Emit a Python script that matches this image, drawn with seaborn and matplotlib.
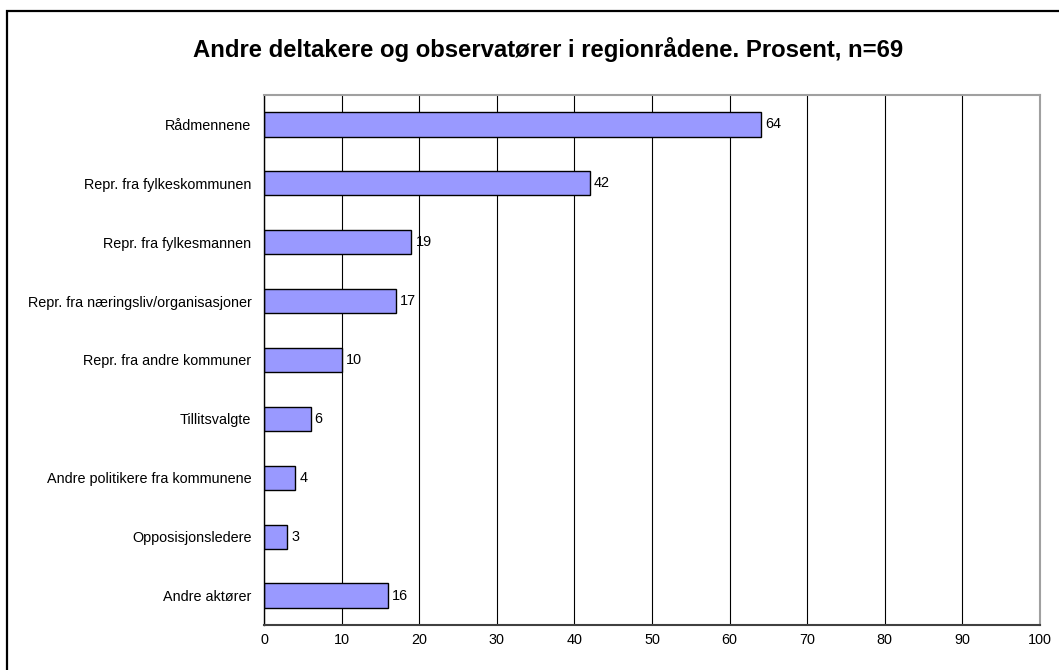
import matplotlib
matplotlib.use("Agg")
import matplotlib.pyplot as plt
import seaborn as sns
from matplotlib.patches import Rectangle

# Data
categories = ["Rådmennene", "Repr. fra fylkeskommunen", "Repr. fra fylkesmannen",
              "Repr. fra næringsliv/organisasjoner", "Repr. fra andre kommuner",
              "Tillitsvalgte", "Andre politikere fra kommunene", "Opposisjonsledere",
              "Andre aktører"]
values = [64, 42, 19, 17, 10, 6, 4, 3, 16]
x_ticks = list(range(0, 101, 10))

sns.set_style("white")
plt.rcParams['font.family'] = ['Liberation Sans', 'DejaVu Sans']
plt.rcParams['text.color'] = 'black'
plt.rcParams['xtick.color'] = 'black'
plt.rcParams['ytick.color'] = 'black'

fs = 10.4
fig = plt.figure(figsize=(10.59, 6.7), dpi=100)
ax = fig.add_axes([264 / 1059, 1 - 625 / 670, (1040 - 264) / 1059, (625 - 95) / 670])

sns.barplot(x=values, y=categories, orient="h", color="#9999FF", edgecolor="black",
            linewidth=1.0, width=0.41, saturation=1, ax=ax)

ax.set_xlim(0, 100)
ax.set_ylim(len(categories) - 0.5, -0.5)
ax.set_xticks(x_ticks)
ax.set_xticklabels([str(t) for t in x_ticks], fontsize=fs)
ax.tick_params(axis="x", length=4, width=0.8, color="#404040", labelcolor="black", pad=2)

# category labels, with tick marks between categories
ax.set_yticks(range(len(categories)))
ax.set_yticklabels(categories, fontsize=fs)
ax.tick_params(axis="y", which="major", length=0, labelcolor="black", pad=9)
ax.set_yticks([i - 0.5 for i in range(len(categories) + 1)], minor=True)
ax.tick_params(axis="y", which="minor", length=5, width=0.8, color="black", direction="out")

ax.xaxis.grid(True, color="black", linewidth=0.8)
ax.yaxis.grid(False)
ax.set_axisbelow(True)

ax.spines["left"].set_color("black")
ax.spines["left"].set_linewidth(1.0)
ax.spines["bottom"].set_color("#404040")
ax.spines["bottom"].set_linewidth(1.5)
ax.spines["top"].set_color("#a0a0a0")
ax.spines["right"].set_color("#a0a0a0")
ax.spines["top"].set_linewidth(1.5)
ax.spines["right"].set_linewidth(1.5)

for i, v in enumerate(values):
    ax.annotate(str(v), (v, i), xytext=(3, 0), textcoords="offset points",
                va="center", ha="left", fontsize=fs, color="black")

ax.set_xlabel("")
ax.set_ylabel("")

fig.text(548 / 1059, 1 - 50 / 670, "Andre deltakere og observatører i regionrådene. Prosent, n=69",
         ha="center", va="center", fontsize=17.2, fontweight="bold", color="black")

# outer chart border (only top and left visible in the frame)
fig.patches.append(Rectangle((7 / 1059, -0.1), 1.2, 1 - 11 / 670 + 0.1,
                             transform=fig.transFigure, fill=False,
                             edgecolor="black", linewidth=1.6))

fig.savefig("out.png", dpi=100)
